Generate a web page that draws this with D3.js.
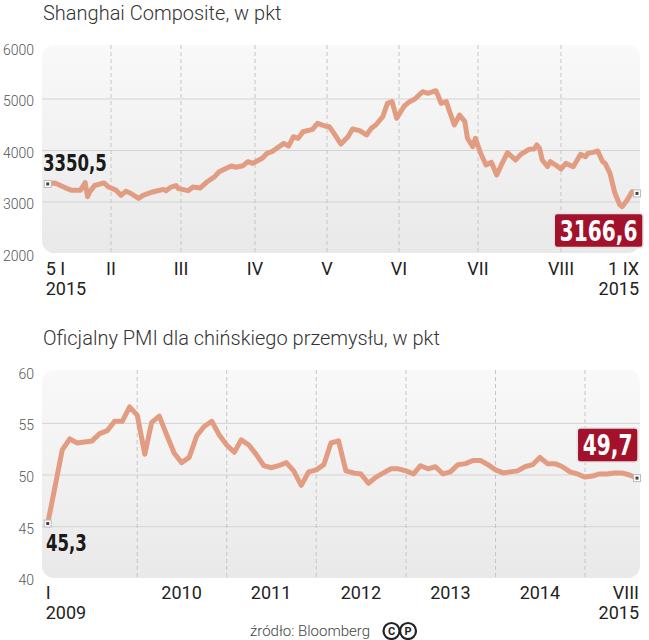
<!DOCTYPE html>
<head>
<meta charset="utf-8">
<style>
body { margin: 0; background: #fff; }
svg { display: block; }
text { font-family: Roboto, "Noto Sans", sans-serif; }
.title { font-size: 20px; font-weight: 300; fill: #333; }
.ytick { font-size: 14px; font-weight: 300; fill: #555; }
.xtick { font-size: 18px; fill: #222; }
.grid { stroke: #d3d3d3; stroke-width: 1px; }
.vgrid { stroke: #c6c6c6; stroke-width: 1px; stroke-dasharray: 4,3; }
.series { fill: none; stroke: #e29c82; stroke-width: 5px; stroke-linejoin: round; stroke-linecap: round; }
.big { font-family: "DejaVu Sans Condensed", "Liberation Sans Narrow", sans-serif; font-stretch: condensed; font-weight: bold; }
.source { font-size: 15px; font-weight: 300; fill: #444; }
</style>
</head>
<body>
<script src="https://d3js.org/d3.v7.min.js"></script>
<script>
// Shanghai Composite, readings (date, points)
var shDates = [
  "2015-01-05","2015-01-08","2015-01-13","2015-01-15","2015-01-19","2015-01-21","2015-01-22","2015-01-23","2015-01-25","2015-01-29","2015-01-31",
  "2015-02-03","2015-02-05","2015-02-07","2015-02-09","2015-02-12","2015-02-14","2015-02-18","2015-02-22","2015-02-23","2015-02-25","2015-02-27","2015-02-28",
  "2015-03-04","2015-03-06","2015-03-09","2015-03-12","2015-03-15","2015-03-17","2015-03-22","2015-03-24","2015-03-27","2015-03-29","2015-03-31",
  "2015-04-04","2015-04-06","2015-04-08","2015-04-10","2015-04-13","2015-04-15","2015-04-17","2015-04-19","2015-04-21","2015-04-25","2015-04-27","2015-04-30",
  "2015-05-02","2015-05-04","2015-05-07","2015-05-10","2015-05-12","2015-05-15","2015-05-18","2015-05-20","2015-05-22","2015-05-25","2015-05-27","2015-05-29","2015-05-30","2015-05-31",
  "2015-06-03","2015-06-05","2015-06-07","2015-06-10","2015-06-12","2015-06-15","2015-06-16","2015-06-17","2015-06-19","2015-06-20","2015-06-22","2015-06-24","2015-06-26","2015-06-27","2015-06-29","2015-06-30",
  "2015-07-02","2015-07-04","2015-07-06","2015-07-08","2015-07-10","2015-07-12","2015-07-15","2015-07-17","2015-07-20","2015-07-22","2015-07-23","2015-07-24","2015-07-25","2015-07-27","2015-07-28","2015-07-30",
  "2015-08-01","2015-08-03","2015-08-06","2015-08-09","2015-08-11","2015-08-12","2015-08-14","2015-08-16","2015-08-18","2015-08-19","2015-08-21","2015-08-23","2015-08-25","2015-08-26","2015-08-28","2015-08-30","2015-09-01"
];
var shValues = [
  3350.5,3370,3266,3230,3230,3375,3103,3200,3320,3370,3290,
  3230,3130,3210,3165,3071,3135,3200,3245,3220,3290,3320,3260,
  3220,3290,3270,3394,3487,3588,3700,3675,3705,3783,3750,
  3848,3945,3977,4042,4139,4087,4268,4236,4365,4410,4528,4477,
  4462,4333,4126,4268,4417,4385,4301,4430,4495,4656,4916,4948,4786,4625,
  4864,4948,5000,5142,5110,5161,5046,4916,4948,4786,4495,4689,4560,4237,4074,4237,
  3945,3718,3770,3524,3750,3958,3815,3925,4023,4030,4107,4042,3815,3686,3783,3718,
  3641,3750,3686,3926,3880,3945,3964,3990,3783,3750,3557,3169,2942,2910,3039,3200,3166.6
];
var shMonths = ["2015-02-01","2015-03-01","2015-04-01","2015-05-01","2015-06-01","2015-07-01","2015-08-01"];
var shMonthLabels = ["II","III","IV","V","VI","VII","VIII"];
var shYTicks = [2000, 3000, 4000, 5000, 6000];

// official PMI, monthly from I 2009 to VIII 2015
var pmiValues = [
  45.3,49.0,52.4,53.5,53.1,53.2,53.3,54.0,54.3,55.2,55.2,56.6,
  55.8,52.0,55.1,55.7,53.9,52.1,51.2,51.7,53.8,54.7,55.2,53.9,
  52.9,52.2,53.4,52.9,52.0,50.9,50.7,50.9,51.2,50.4,49.0,50.3,
  50.5,51.0,53.1,53.3,50.4,50.2,50.1,49.2,49.8,50.2,50.6,50.6,
  50.4,50.1,50.9,50.6,50.8,50.1,50.3,51.0,51.1,51.4,51.4,51.0,
  50.5,50.2,50.3,50.4,50.8,51.0,51.7,51.1,51.1,50.8,50.3,50.1,
  49.8,49.9,50.1,50.1,50.2,50.2,50.0,49.7
];
var pmiYears = [2010, 2011, 2012, 2013, 2014];
var pmiYTicks = [40, 45, 50, 55, 60];

var parse = d3.timeParse("%Y-%m-%d");
var fmt = function (v) { return String(v).replace(".", ","); };

var svg = d3.select("body").append("svg")
    .attr("width", 649)
    .attr("height", 640);

var grad = svg.append("defs").append("linearGradient")
    .attr("id", "bg").attr("x1", 0).attr("y1", 0).attr("x2", 0).attr("y2", 1);
grad.append("stop").attr("offset", "0%").attr("stop-color", "#f9f9f9");
grad.append("stop").attr("offset", "100%").attr("stop-color", "#e9e9e9");

var panelX = 42, panelW = 598, panelH = 208;
var x0 = 47.7, x1 = 637;
var squeeze = 0.8;   // the value labels use a narrow face

function marker(g, x, y) {
  g.append("rect").attr("x", x - 3.5).attr("y", y - 3.5).attr("width", 7).attr("height", 7)
      .attr("fill", "#fff").attr("stroke", "#bbb").attr("stroke-width", 1);
  g.append("rect").attr("x", x - 1.5).attr("y", y - 1.5).attr("width", 3).attr("height", 3)
      .attr("fill", "#444");
}

function bigText(g, label, x, y, size, color, anchor) {
  return g.append("g").attr("transform", "translate(" + x + "," + y + ") scale(" + squeeze + ",1)")
    .append("text").attr("class", "big").style("font-size", size + "px")
      .attr("fill", color).attr("text-anchor", anchor || "start").text(label);
}

function redBox(g, label, right, top, size) {
  var h = 34;
  var t = bigText(g, label, 0, 0, size, "#fff", "middle");
  var w = t.node().getComputedTextLength() * squeeze + 11;
  g.insert("rect", "g")
      .attr("x", right - w).attr("y", top).attr("width", w).attr("height", h).attr("rx", 3)
      .attr("fill", "#a3112b").attr("stroke", "#e2e2e2").attr("stroke-width", 1.5);
  d3.select(t.node().parentNode)
      .attr("transform", "translate(" + (right - w / 2) + "," + (top + h / 2 + size * 0.365) + ") scale(" + squeeze + ",1)");
}

// ---------- Shanghai Composite ----------
var gTop = svg.append("g");
gTop.append("text").attr("class", "title").attr("x", 43).attr("y", 20).text("Shanghai Composite, w pkt");
gTop.append("rect").attr("x", panelX).attr("y", 45).attr("width", panelW).attr("height", panelH)
    .attr("rx", 12).attr("fill", "url(#bg)");

// month lines in the source are not evenly spaced in time, so the scale is piecewise
var shBreaks = ["2015-01-05"].concat(shMonths, ["2015-09-01"]).map(parse);
var shStretch = [0, 0.1074, 0.2262, 0.3518, 0.4740, 0.5962, 0.7302, 0.8710, 1];
var xSh = d3.scaleTime().domain(shBreaks).range(shStretch.map(function (f) { return x0 + f * (x1 - x0); }));
var ySh = d3.scaleLinear().domain([2000, 6000]).range([253.5, 47.5]);

gTop.selectAll("line.grid").data([3000, 4000, 5000]).enter().append("line")
    .attr("class", "grid")
    .attr("x1", panelX).attr("x2", panelX + panelW)
    .attr("y1", function (d) { return ySh(d); }).attr("y2", function (d) { return ySh(d); });

gTop.selectAll("line.vgrid").data(shMonths).enter().append("line")
    .attr("class", "vgrid")
    .attr("x1", function (d) { return xSh(parse(d)); }).attr("x2", function (d) { return xSh(parse(d)); })
    .attr("y1", 45).attr("y2", 45 + panelH);

gTop.selectAll("text.ytick").data(shYTicks).enter().append("text")
    .attr("class", "ytick").attr("x", 34).attr("text-anchor", "end")
    .attr("y", function (d) { return ySh(d) + 2; }).attr("dominant-baseline", "central")
    .text(function (d) { return d; });

gTop.selectAll("text.mon").data(shMonths).enter().append("text")
    .attr("class", "xtick mon").attr("text-anchor", "middle")
    .attr("x", function (d) { return xSh(parse(d)); }).attr("y", 275)
    .text(function (d, i) { return shMonthLabels[i]; });
gTop.append("text").attr("class", "xtick").attr("x", x0 - 2).attr("y", 275).text("5 I");
gTop.append("text").attr("class", "xtick").attr("x", x0 - 2).attr("y", 295).text("2015");
gTop.append("text").attr("class", "xtick").attr("x", x1 + 2).attr("y", 275).attr("text-anchor", "end").text("1 IX");
gTop.append("text").attr("class", "xtick").attr("x", x1 + 2).attr("y", 295).attr("text-anchor", "end").text("2015");

var shLine = d3.line()
    .x(function (d, i) { return xSh(parse(shDates[i])); })
    .y(function (d) { return ySh(d); });
gTop.append("path").attr("class", "series").attr("d", shLine(shValues));

var shFirst = shValues[0], shLast = shValues[shValues.length - 1];
var sx0 = xSh(parse(shDates[0])), sy0 = ySh(shFirst);
var sx1 = xSh(parse(shDates[shDates.length - 1])), sy1 = ySh(shLast);
marker(gTop, sx0, sy0);
marker(gTop, sx1, sy1);
bigText(gTop, fmt(shFirst), 43, sy0 - 13, 23, "#1a1a1a");
redBox(gTop.append("g"), fmt(shLast), sx1 + 6, sy1 + 20, 28);

// ---------- PMI ----------
var gBot = svg.append("g");
gBot.append("text").attr("class", "title").attr("x", 43).attr("y", 345).text("Oficjalny PMI dla chińskiego przemysłu, w pkt");
gBot.append("rect").attr("x", panelX).attr("y", 370).attr("width", panelW).attr("height", panelH)
    .attr("rx", 12).attr("fill", "url(#bg)");

var pmiMonths = d3.timeMonth.range(new Date(2009, 0, 1), new Date(2015, 8, 1));
var xPmi = d3.scaleTime().domain([pmiMonths[0], pmiMonths[pmiMonths.length - 1]]).range([x0, x1]);
var yPmi = d3.scaleLinear().domain([40, 60]).range([578.3, 371.7]);

gBot.selectAll("line.grid").data([45, 50, 55]).enter().append("line")
    .attr("class", "grid")
    .attr("x1", panelX).attr("x2", panelX + panelW)
    .attr("y1", function (d) { return yPmi(d); }).attr("y2", function (d) { return yPmi(d); });

var yearStarts = pmiYears.concat([2015]).map(function (y) { return new Date(y, 0, 1); });
gBot.selectAll("line.vgrid").data(yearStarts).enter().append("line")
    .attr("class", "vgrid")
    .attr("x1", function (d) { return xPmi(d); }).attr("x2", function (d) { return xPmi(d); })
    .attr("y1", 370).attr("y2", 370 + panelH);

gBot.selectAll("text.ytick").data(pmiYTicks).enter().append("text")
    .attr("class", "ytick").attr("x", 34).attr("text-anchor", "end")
    .attr("y", function (d) { return yPmi(d) + 2; }).attr("dominant-baseline", "central")
    .text(function (d) { return d; });

gBot.selectAll("text.yr").data(pmiYears).enter().append("text")
    .attr("class", "xtick yr").attr("text-anchor", "middle")
    .attr("x", function (d) { return xPmi(new Date(d, 6, 1)); }).attr("y", 599)
    .text(function (d) { return d; });
gBot.append("text").attr("class", "xtick").attr("x", x0 - 2).attr("y", 599).text("I");
gBot.append("text").attr("class", "xtick").attr("x", x0 - 2).attr("y", 619).text("2009");
gBot.append("text").attr("class", "xtick").attr("x", x1 + 2).attr("y", 599).attr("text-anchor", "end").text("VIII");
gBot.append("text").attr("class", "xtick").attr("x", x1 + 2).attr("y", 619).attr("text-anchor", "end").text("2015");

var pmiLine = d3.line()
    .x(function (d, i) { return xPmi(pmiMonths[i]); })
    .y(function (d) { return yPmi(d); });
gBot.append("path").attr("class", "series").attr("d", pmiLine(pmiValues));

var pFirst = pmiValues[0], pLast = pmiValues[pmiValues.length - 1];
var px0 = xPmi(pmiMonths[0]), py0 = yPmi(pFirst);
var px1 = xPmi(pmiMonths[pmiMonths.length - 1]), py1 = yPmi(pLast);
marker(gBot, px0, py0);
marker(gBot, px1, py1);
bigText(gBot, fmt(pFirst), 46, py0 + 27, 23, "#1a1a1a");
redBox(gBot.append("g"), fmt(pLast), px1 + 1, py1 - 50, 28);

// ---------- source ----------
svg.append("text").attr("class", "source").attr("x", 250).attr("y", 636).text("źródło: Bloomberg");
var logo = svg.append("g").attr("transform", "translate(391.5,631)");
[["C", 0], ["P", 16.5]].forEach(function (c) {
  logo.append("circle").attr("cx", c[1]).attr("cy", 0).attr("r", 8)
      .attr("fill", "#fff").attr("stroke", "#222").attr("stroke-width", 2.2);
  logo.append("text").attr("x", c[1]).attr("y", 4).attr("text-anchor", "middle")
      .style("font-size", "11px").style("font-weight", "bold").attr("fill", "#222").text(c[0]);
});
</script>
</body>
